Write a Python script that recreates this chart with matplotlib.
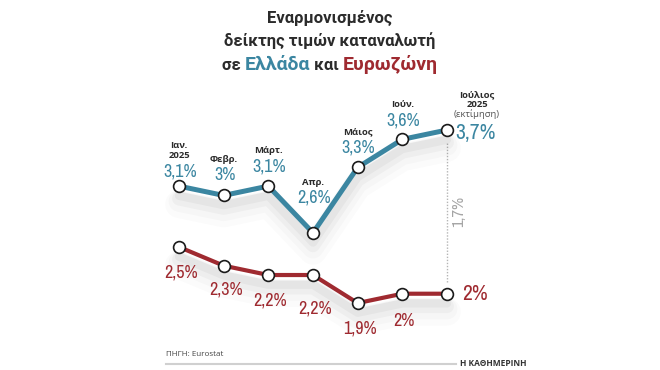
import matplotlib
matplotlib.use("Agg")
import matplotlib.pyplot as plt
import matplotlib.patheffects as pe
from matplotlib.lines import Line2D
from matplotlib import font_manager

# data
months = ["Ιαν.\n2025", "Φεβρ.", "Μάρτ.", "Απρ.", "Μάιος", "Ιούν.", "Ιούλιος\n2025"]
greece = [3.1, 3.0, 3.1, 2.6, 3.3, 3.6, 3.7]
eurozone = [2.5, 2.3, 2.2, 2.2, 1.9, 2.0, 2.0]
estimate_note = "(εκτίμηση)"
source = "ΠΗΓΗ: Eurostat"
brand = "Η ΚΑΘΗΜΕΡΙΝΗ"

BLUE = "#3b86a1"
RED = "#9f2a30"
DARK = "#2b2b2b"
TITLE_FONT = ["Roboto", "DejaVu Sans"]
LABEL_FONT = ["Open Sans", "DejaVu Sans"]

# look for a condensed face for the numbers
cond = None
for f in font_manager.fontManager.ttflist:
    if "Narrow" in f.name or "Condensed" in f.fname:
        cond = f.fname
        if "Narrow" in f.name and "Bold" not in f.fname and "Italic" not in f.fname:
            break
if cond:
    NUM = font_manager.FontProperties(fname=cond)
else:
    NUM = font_manager.FontProperties(family="DejaVu Sans")

W, H = 660, 370
fig = plt.figure(figsize=(6.6, 3.7), dpi=100)


def fx(x):
    return x / W


def fy(y):
    return 1 - y / H


def fmt(v):
    s = f"{v:.1f}".rstrip("0").rstrip(".")
    return s.replace(".", ",") + "%"


def num(size):
    p = NUM.copy()
    p.set_size(size)
    return p


# one axes per series, same scale, euro one nudged a bit down
step_x = 44.67
step_y = 93.5
ax = fig.add_axes([0, 0, 1, 1])
ax.set_xlim(-179 / step_x, (W - 179) / step_x)
ax.set_ylim(3.7 - 240 / step_y, 3.7 + 130 / step_y)
ax.axis("off")

shift = 0.051
ax2 = fig.add_axes([0, 0, 1, 1])
ax2.set_xlim(ax.get_xlim())
ax2.set_ylim(ax.get_ylim()[0] + shift, ax.get_ylim()[1] + shift)
ax2.patch.set_visible(False)
ax2.axis("off")

shadow = [pe.SimpleLineShadow(offset=(0, -d), shadow_color="black", alpha=a, linewidth=w)
          for d, w, a in [(7, 6, 0.035), (9, 10, 0.03), (11, 15, 0.02), (13, 20, 0.015)]]
shadow.append(pe.Normal())

xs = list(range(len(months)))

for a, vals, col, lw in [(ax, greece, BLUE, 3.6), (ax2, eurozone, RED, 3.0)]:
    a.plot(xs, vals, color=col, lw=lw, solid_joinstyle="round", solid_capstyle="round",
           path_effects=shadow, zorder=2)
    a.plot(xs, vals, ls="none", marker="o", ms=8.5, mfc="white", mec="#1a1a1a", mew=1.2,
           zorder=3)

# greece labels (above)
gr_off = [15, 20, 20, 35, 20, 19]
for i in range(len(months) - 1):
    ax.annotate(fmt(greece[i]), (xs[i], greece[i]), xytext=(1, gr_off[i]),
                textcoords="offset pixels", ha="center", va="center",
                fontproperties=num(13), color=BLUE)
    ax.annotate(months[i], (xs[i], greece[i]), xytext=(0, gr_off[i] + 13),
                textcoords="offset pixels", ha="center", va="baseline",
                fontsize=6.8, color=DARK, fontweight="bold", family=LABEL_FONT,
                linespacing=1.15)

# last (estimate) point
ax.annotate(fmt(greece[-1]), (xs[-1], greece[-1]), xytext=(28, -3),
            textcoords="offset pixels", ha="center", va="center",
            fontproperties=num(15.5), color=BLUE)
ax.annotate(months[-1], (xs[-1], greece[-1]), xytext=(30, 23),
            textcoords="offset pixels", ha="center", va="baseline",
            fontsize=6.8, color=DARK, fontweight="bold", family=LABEL_FONT,
            linespacing=1.15)
ax.annotate(estimate_note, (xs[-1], greece[-1]), xytext=(30, 13),
            textcoords="offset pixels", ha="center", va="baseline",
            fontsize=6.8, color="#555555", family=LABEL_FONT)

# eurozone labels (below)
eu_off = [26, 24, 25, 33, 25, 27]
for i in range(len(months) - 1):
    ax2.annotate(fmt(eurozone[i]), (xs[i], eurozone[i]), xytext=(2, -eu_off[i]),
                 textcoords="offset pixels", ha="center", va="center",
                 fontproperties=num(13), color=RED)
ax2.annotate(fmt(eurozone[-1]), (xs[-1], eurozone[-1]), xytext=(28, 0),
             textcoords="offset pixels", ha="center", va="center",
             fontproperties=num(15.5), color=RED)

# gap between the two July values
gap = 0.13
top = greece[-1] - gap
bottom = eurozone[-1] - shift + gap
ax.vlines(xs[-1], bottom, top, colors="#b5b5b5", lw=1, linestyles=(0, (1, 1.2)), zorder=1)
ax.annotate(fmt(greece[-1] - eurozone[-1]), (xs[-1], (top + bottom) / 2), xytext=(12, 0),
            textcoords="offset pixels", ha="center", va="center", rotation=90,
            fontproperties=num(12), color="#a5a5a5")

# title
fig.text(fx(330), fy(23), "Εναρμονισμένος", ha="center", va="baseline",
         fontsize=12, fontweight="bold", color=DARK, family=TITLE_FONT)
fig.text(fx(330), fy(46), "δείκτης τιμών καταναλωτή", ha="center", va="baseline",
         fontsize=12, fontweight="bold", color=DARK, family=TITLE_FONT)

pieces = [("σε ", DARK, 12), ("Ελλάδα", BLUE, 14), (" και ", DARK, 12), ("Ευρωζώνη", RED, 14)]
renderer = fig.canvas.get_renderer()
texts = []
total = 0
for s, c, size in pieces:
    t = fig.text(0, fy(70), s, ha="left", va="baseline", fontsize=size,
                 fontweight="bold", color=c, family=TITLE_FONT)
    w = t.get_window_extent(renderer).width
    texts.append((t, w))
    total += w
x0 = 330 - total / 2
for t, w in texts:
    t.set_x(fx(x0))
    x0 += w

# footer
fig.text(fx(166), fy(355), source, ha="left", va="center", fontsize=5.8,
         color="#444444", family=LABEL_FONT)
fig.add_artist(Line2D([fx(166), fx(456)], [fy(364), fy(364)], color="#d0d0d0", lw=1.5))
fig.text(fx(460), fy(363), brand, ha="left", va="center", fontsize=6,
         color="#333333", fontweight="bold", family=LABEL_FONT)

fig.savefig("out.png", dpi=100, facecolor="white")
